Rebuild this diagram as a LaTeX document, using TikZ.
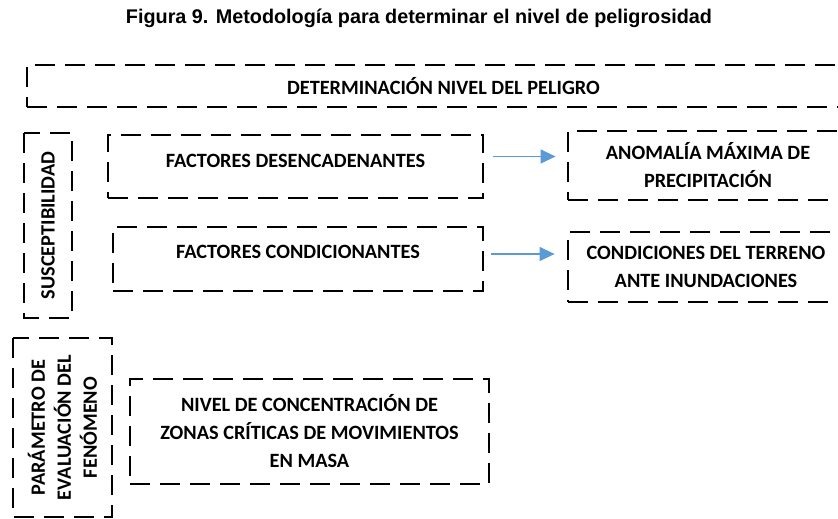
\documentclass[tikz,border=0pt]{standalone}
\usepackage{fontspec}
\setmainfont{Carlito}
\newfontfamily\titlefont{Liberation Sans}
\usetikzlibrary{arrows.meta}
\definecolor{azul}{RGB}{91,155,213}

\begin{document}
\begin{tikzpicture}[x=1pt,y=-1pt,
    caja/.style={draw=black, line width=2.8pt, dash pattern=on 20pt off 10pt,
        font=\bfseries\fontsize{20.3}{28}\selectfont, align=center, inner sep=0pt},
    flecha/.style={draw=azul, line width=1.3pt, -{Triangle[length=15pt,width=14pt]}}]
\clip (0,0) rectangle (838,519);
\node (titulo) at (419,18) {\titlefont\bfseries\fontsize{19.8}{22}\selectfont Figura 9. Metodología para determinar el nivel de peligrosidad};

% cajas
\node[caja, minimum width=833, minimum height=42] (peligro) at (443.5,86) {DETERMINACIÓN NIVEL DEL PELIGRO};
\node[caja, rotate=90, minimum width=185, minimum height=48] (susc) at (48,225.5) {SUSCEPTIBILIDAD};
\node[caja, minimum width=375, minimum height=63, text depth=12pt] (fdes) at (295.5,166.5) {FACTORES DESENCADENANTES};
\node[caja, minimum width=370, minimum height=64, text depth=14pt] (fcon) at (298,259) {FACTORES CONDICIONANTES};
\node[caja, minimum width=280, minimum height=69] (anom) at (708,165.5) {ANOMALÍA MÁXIMA DE\\PRECIPITACIÓN};
\node[caja, minimum width=276, minimum height=70] (cond) at (706,267) {CONDICIONES DEL TERRENO\\ANTE INUNDACIONES};
\node[caja, rotate=90, minimum width=179, minimum height=99, font=\bfseries\fontsize{20.3}{26}\selectfont] (param) at (62.5,427.5) {PARÁMETRO DE\\EVALUACIÓN DEL\\FENÓMENO};
\node[caja, minimum width=359, minimum height=105] (nivel) at (309.5,431.5) {NIVEL DE CONCENTRACIÓN DE\\ZONAS CRÍTICAS DE MOVIMIENTOS\\EN MASA};

% flechas
\draw[flecha, shorten <=9pt, shorten >=11pt] ([yshift=10pt]fdes.east) -- ([yshift=10pt]fdes.east -| anom.west);
\draw[flecha, shorten <=7pt, shorten >=12pt] ([yshift=5pt]fcon.east) -- ([yshift=5pt]fcon.east -| cond.west);
\end{tikzpicture}
\end{document}
